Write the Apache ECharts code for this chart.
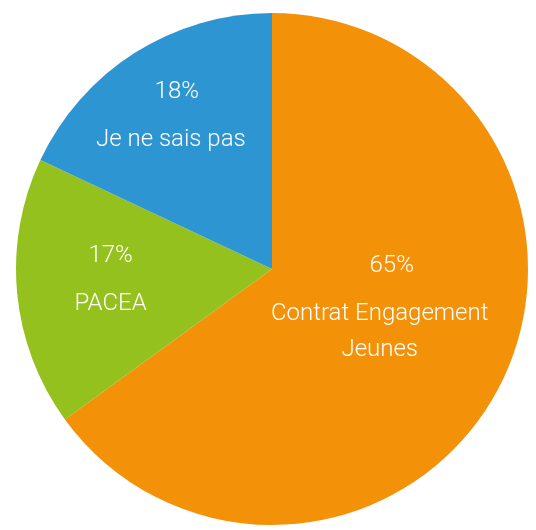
<!DOCTYPE html>
<html>
<head>
<meta charset="utf-8">
<script src="https://cdn.jsdelivr.net/npm/echarts@6/dist/echarts.min.js"></script>
<style>html,body{margin:0;padding:0;background:#fff}#c{width:536px;height:530px}</style>
</head>
<body>
<div id="c"></div>
<script>
const categories = ['Contrat Engagement\nJeunes', 'PACEA', 'Je ne sais pas'];
const values = [65, 17, 18];
const colors = ['#F39208', '#95C11F', '#2D96D2'];
const labelShift = [[-9, -26], [-31, -7], [-31, -48]];
const percentIndent = [24, 0, 12];

const txt = {color: '#fff', fontFamily: 'Roboto', fontWeight: 300, fontSize: 24};

const chart = echarts.init(document.getElementById('c'), null, {renderer: 'canvas'});
chart.setOption({
  animation: false,
  series: [{
    type: 'pie',
    center: [272, 269],
    radius: [0, 256],
    startAngle: 90,
    clockwise: true,
    data: categories.map((n, i) => ({
      name: n,
      value: values[i],
      itemStyle: {color: colors[i]},
      label: {
        rich: {
          p: Object.assign({}, txt, {lineHeight: 60, padding: [0, 0, 0, percentIndent[i]]}),
          n: Object.assign({}, txt, {lineHeight: 36})
        }
      }
    })),
    label: Object.assign({
      show: true,
      position: 'inside',
      formatter: '{p|{c}%}\n{n|{b}}'
    }, txt),
    labelLayout: function (p) {
      const s = labelShift[p.dataIndex];
      return {dx: s[0], dy: s[1]};
    },
    labelLine: {show: false},
    emphasis: {disabled: true}
  }]
});
</script>
</body>
</html>
